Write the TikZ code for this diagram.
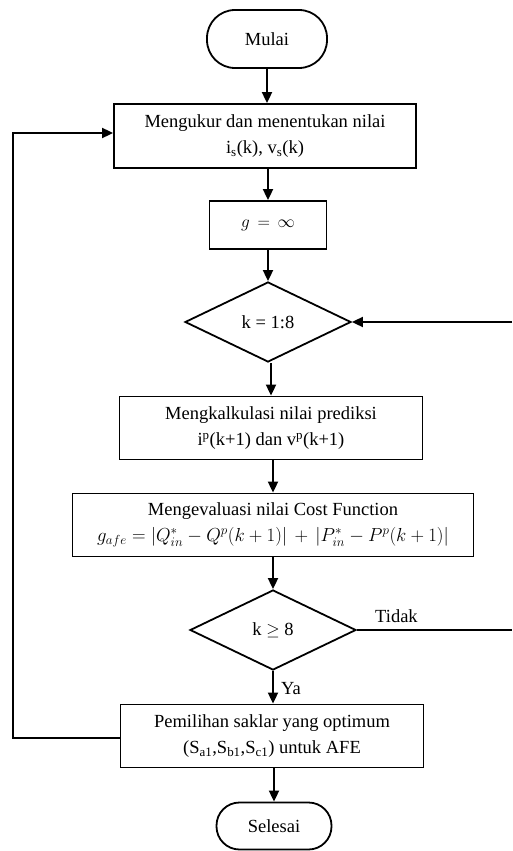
\documentclass[tikz,border=0pt]{standalone}
\usepackage{graphicx}
\usepackage{fontspec}
\setmainfont{Liberation Serif}
\usetikzlibrary{shapes.geometric,arrows.meta}
\begin{document}
\begin{tikzpicture}[x=1pt,y=1pt,
  font=\fontsize{18.5}{23}\selectfont,
  line width=1.8pt,
  proc/.style={draw, rectangle, align=center, inner sep=0pt},
  dec/.style={draw, diamond, inner sep=0pt, minimum width=166pt, minimum height=80pt},
  arr/.style={-{Triangle[length=11pt,width=10pt]}}
]
\useasboundingbox (0,0) rectangle (512,-851);
\node[draw, rounded corners=28pt, minimum width=120pt, minimum height=58pt] (mulai) at (267,-39) {Mulai};
\node[proc, minimum width=302pt, minimum height=64pt] (ukur) at (265,-136) {Mengukur dan menentukan nilai\\[3pt] i\textsubscript{s}(k), v\textsubscript{s}(k)};
\node[proc, minimum width=117pt, minimum height=48pt] (g) at (268,-225) {$g\,=\,\infty$};
\node[dec] (k18) at (268,-322) {k = 1:8};
\node[proc, minimum width=303pt, minimum height=63pt] (kalk) at (271,-428) {Mengkalkulasi nilai prediksi\\[3pt] i\textsuperscript{p}(k+1) dan v\textsuperscript{p}(k+1)};
\node[proc, minimum width=401pt, minimum height=63pt] (eval) at (273,-525) {Mengevaluasi nilai Cost Function\\[3pt] \scalebox{1.09}{$g_{afe}=|Q_{in}^{*}-Q^{p}(k+1)|\,+\,|P_{in}^{*}-P^{p}(k+1)|$}};
\node[dec] (k8) at (273,-630) {k $\geq$ 8};
\node[proc, minimum width=303pt, minimum height=63pt] (pilih) at (272,-736) {Pemilihan saklar yang optimum\\[3pt] (S\textsubscript{a1},S\textsubscript{b1},S\textsubscript{c1}) untuk AFE};
\node[draw, rounded corners=23pt, minimum width=115pt, minimum height=47pt] (selesai) at (274,-826) {Selesai};

\coordinate (rtop) at (512,-322);
\coordinate (rbot) at (512,-630);
\coordinate (lbot) at (13,-738);
\coordinate (ltop) at (13,-133);

\draw[arr] (mulai.south) -- (mulai.south |- ukur.north);
\draw[arr] (ukur.south -| g.north) -- (g.north);
\draw[arr] (g.south) -- (k18.north);
\draw[arr] (k18.south -| kalk.north) -- (kalk.north);
\draw[arr] (kalk.south -| eval.north) -- (eval.north);
\draw[arr] (eval.south -| k8.north) -- (k8.north);
\draw[arr] (k8.south) -- node[right, xshift=4pt, yshift=-1pt] {Ya} (k8.south |- pilih.north);
\draw[arr] (pilih.south -| selesai.north) -- (selesai.north);
\draw (k8.east) -- node[above, xshift=-38pt, yshift=3pt] {Tidak} (rbot);
\draw[arr] (rtop) -- (k18.east);
\draw[arr] (pilih.west |- lbot) -- (lbot) -- (ltop) -- (ukur.west |- ltop);
\end{tikzpicture}
\end{document}
